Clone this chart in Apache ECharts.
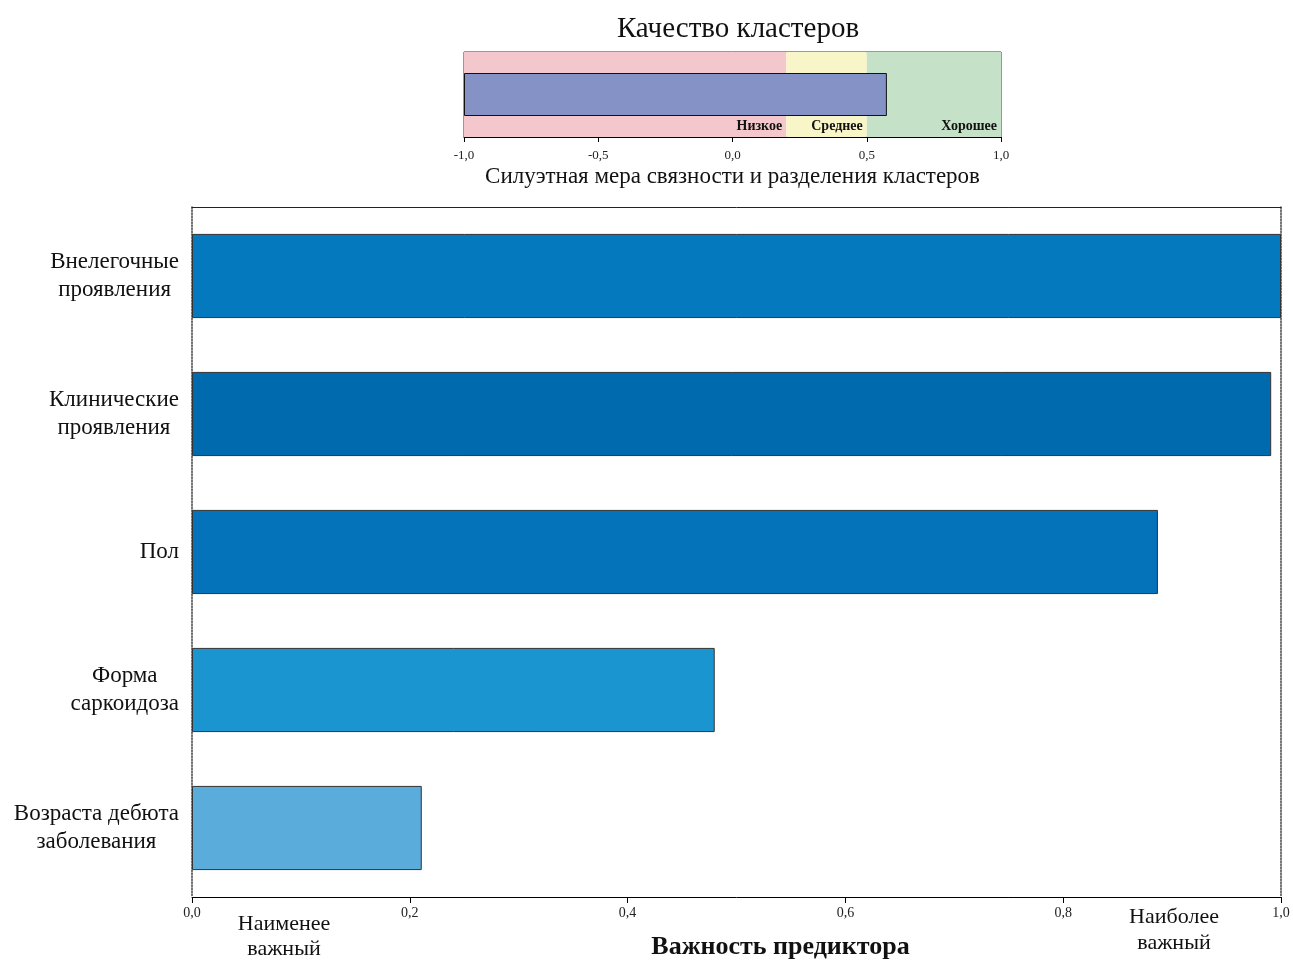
<!DOCTYPE html>
<html>
<head>
<meta charset="utf-8">
<script src="https://cdn.jsdelivr.net/npm/echarts@6/dist/echarts.min.js"></script>
<style>
html,body{margin:0;padding:0;background:#fff;}
#chart{width:1293px;height:960px;}
</style>
</head>
<body>
<div id="chart"></div>
<script>
// Data
var categories = ['Внелегочные\nпроявления', 'Клинические\nпроявления', 'Пол', 'Форма\nсаркоидоза', 'Возраста дебюта\nзаболевания'];
var importance = [1.0, 0.991, 0.887, 0.48, 0.211];
var barColors = ['#0579bd', '#006aae', '#0473b9', '#1b95d0', '#5aacdb'];
var silhouetteValue = [0.575];
var qualityBounds = [-1.0, 0.2, 0.5, 1.0];
var qualityNames = ['Низкое', 'Среднее', 'Хорошее'];
var qualityColors = ['#f4c7cc', '#f8f5c8', '#c5e2c8'];
var leastLabel = 'Наименее\nважный';
var mostLabel = 'Наиболее\nважный';

var FONT = '"Liberation Serif", "DejaVu Serif", serif';
function fmt(v) { return v.toFixed(1).replace('.', ','); }
function centeredRich(text) {
  return text.split('\n').map(function (l) { return '{c|' + l + '}'; }).join('\n');
}

var chart = echarts.init(document.getElementById('chart'));

var markAreaData = [];
for (var i = 0; i < qualityNames.length; i++) {
  markAreaData.push([
    { xAxis: qualityBounds[i], name: qualityNames[i], itemStyle: { color: qualityColors[i] } },
    { xAxis: qualityBounds[i + 1] }
  ]);
}

var option = {
  backgroundColor: '#ffffff',
  animation: false,
  title: {
    text: 'Качество кластеров',
    left: 733, top: 10, textAlign: 'center',
    textStyle: { fontFamily: FONT, fontSize: 29, fontWeight: 'normal', color: '#111' }
  },
  grid: [
    { left: 464, width: 537, top: 52, height: 85, show: true, borderColor: '#333', borderWidth: 1, backgroundColor: 'transparent', outerBoundsMode: 'none', containLabel: false },
    { left: 192, width: 1089, top: 207, height: 690, outerBoundsMode: 'none', containLabel: false }
  ],
  xAxis: [
    {
      gridIndex: 0, type: 'value', min: -1, max: 1, interval: 0.5, startValue: -1,
      axisLine: { show: true, lineStyle: { color: '#000', width: 1 } },
      axisTick: { show: true, length: 5, lineStyle: { color: '#000' } },
      splitLine: { show: false },
      axisLabel: { fontFamily: FONT, fontSize: 13, color: '#222', margin: 12, formatter: fmt },
      name: 'Силуэтная мера связности и разделения кластеров',
      nameLocation: 'middle', nameGap: 28,
      nameTextStyle: { fontFamily: FONT, fontSize: 23, color: '#111' }
    },
    {
      gridIndex: 1, type: 'value', min: 0, max: 1, interval: 0.2,
      axisLine: { show: true, lineStyle: { color: '#000', width: 1 } },
      axisTick: { show: true, length: 6, lineStyle: { color: '#000' } },
      splitLine: { show: false },
      axisLabel: { fontFamily: FONT, fontSize: 14, color: '#222', margin: 9, formatter: fmt },
      name: 'Важность предиктора',
      nameLocation: 'middle', nameGap: 37,
      nameTextStyle: { fontFamily: FONT, fontSize: 26, fontWeight: 'bold', color: '#111', padding: [0, 0, 0, 88] }
    },
    {
      gridIndex: 1, type: 'value', min: 0, max: 1, position: 'top',
      axisLine: { show: true, onZero: false, lineStyle: { color: '#222', width: 1 } },
      axisTick: { show: false }, axisLabel: { show: false }, splitLine: { show: false }
    }
  ],
  yAxis: [
    {
      gridIndex: 0, type: 'category', data: ['s'],
      axisLine: { show: false }, axisTick: { show: false }, axisLabel: { show: false }
    },
    {
      gridIndex: 1, type: 'category', data: categories, inverse: true,
      axisLine: { show: true, lineStyle: { color: '#444', type: 'dotted', width: 1.5 } },
      axisTick: { show: false },
      axisLabel: {
        margin: 13, align: 'right',
        formatter: function (v) { return centeredRich(v); },
        rich: { c: { align: 'center', fontFamily: FONT, fontSize: 23, color: '#111', lineHeight: 28 } }
      }
    },
    {
      gridIndex: 1, type: 'category', data: categories, inverse: true, position: 'right',
      axisLine: { show: true, onZero: false, lineStyle: { color: '#444', type: 'dotted', width: 1.5 } },
      axisTick: { show: false }, axisLabel: { show: false }
    }
  ],
  graphic: [
    { type: 'text', x: 284, y: 912, style: { text: centeredRich(leastLabel), textAlign: 'center', align: 'center', rich: { c: { align: 'center', fontFamily: FONT, fontSize: 22, fill: '#111', lineHeight: 25 } } } },
    { type: 'text', x: 1174, y: 904, style: { text: centeredRich(mostLabel), textAlign: 'center', align: 'center', rich: { c: { align: 'center', fontFamily: FONT, fontSize: 22, fill: '#111', lineHeight: 26 } } } }
  ],
  series: [
    {
      type: 'bar', xAxisIndex: 0, yAxisIndex: 0,
      data: silhouetteValue, barWidth: 43,
      itemStyle: { color: '#8592c6', borderColor: '#111', borderWidth: 1 },
      markArea: {
        silent: true,
        label: {
          show: true, position: 'insideBottomRight', distance: 4,
          formatter: function (p) { return p.name; },
          fontFamily: FONT, fontSize: 14, fontWeight: 'bold', color: '#111'
        },
        data: markAreaData
      },
      z: 3
    },
    {
      type: 'bar', xAxisIndex: 1, yAxisIndex: 1,
      data: importance.map(function (v, i) {
        return { value: v, itemStyle: { color: barColors[i] } };
      }),
      barCategoryGap: '39%',
      itemStyle: { borderColor: '#333', borderWidth: 1 }
    }
  ]
};
chart.setOption(option);
</script>
</body>
</html>
